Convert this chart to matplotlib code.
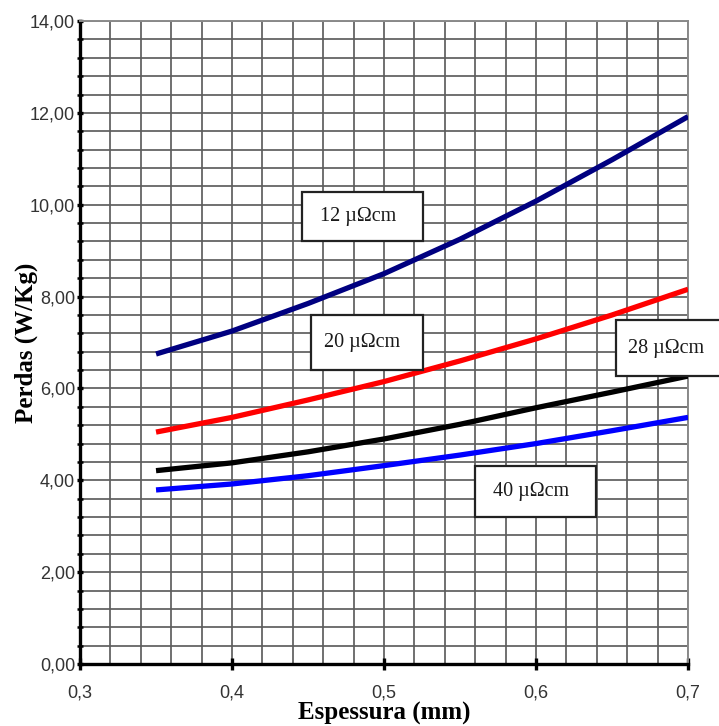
import numpy as np
import matplotlib.pyplot as plt
from matplotlib.patches import Rectangle
from matplotlib.ticker import FuncFormatter, MultipleLocator

# espessura da chapa (mm)
espessura = [0.35, 0.40, 0.45, 0.50, 0.55, 0.60, 0.65, 0.70]

# perdas (W/Kg) para cada resistividade
perdas_12 = [6.75, 7.25, 7.85, 8.50, 9.25, 10.08, 10.98, 11.92]
perdas_20 = [5.05, 5.37, 5.75, 6.15, 6.60, 7.08, 7.60, 8.16]
perdas_28 = [4.21, 4.38, 4.62, 4.90, 5.22, 5.58, 5.92, 6.27]
perdas_40 = [3.79, 3.92, 4.10, 4.32, 4.55, 4.80, 5.08, 5.37]

series = [perdas_12, perdas_20, perdas_28, perdas_40]
cores = ['#000080', '#ff0000', '#000000', '#0000ff']
rotulos = ['12 µΩcm', '20 µΩcm', '28 µΩcm', '40 µΩcm']
# caixas dos rotulos: (x0, x1, y0, y1) em unidades dos eixos
caixas = [(0.446, 0.5257, 9.21, 10.28),
          (0.452, 0.5257, 6.40, 7.60),
          (0.6526, 0.725, 6.27, 7.49),
          (0.5599, 0.6395, 3.20, 4.31)]

fig = plt.figure(figsize=(7.19, 7.26), dpi=100)
ax = fig.add_axes([0.1113, 0.0854, 0.8457, 0.8856])

ax.set_xlim(0.3, 0.7)
ax.set_ylim(0, 14)

ax.xaxis.set_major_locator(MultipleLocator(0.1))
ax.xaxis.set_minor_locator(MultipleLocator(0.02))
ax.yaxis.set_major_locator(MultipleLocator(2))
ax.yaxis.set_minor_locator(MultipleLocator(0.4))
ax.grid(which='both', color='#5e5e5e', lw=1.25)
ax.set_axisbelow(True)

for y, c in zip(series, cores):
    ax.plot(espessura, y, color=c, lw=3.8, solid_capstyle='butt', zorder=3)

for txt, (x0, x1, y0, y1) in zip(rotulos, caixas):
    r = Rectangle((x0, y0), x1 - x0, y1 - y0, facecolor='white',
                  edgecolor='#222222', lw=1.6, zorder=4, clip_on=False)
    ax.add_patch(r)
    ax.text((x0 + x1) / 2 - 0.003, (y0 + y1) / 2, txt, ha='center', va='center',
            family='Liberation Serif', fontsize=14.5, color='#1a1a1a', zorder=5,
            clip_on=False)

for s in ['top', 'right']:
    ax.spines[s].set_color('#8a8a8a')
    ax.spines[s].set_linewidth(1.4)
for s in ['left', 'bottom']:
    ax.spines[s].set_color('black')
    ax.spines[s].set_linewidth(2.4)

ax.xaxis.set_major_formatter(FuncFormatter(lambda v, p: f'{v:.1f}'.replace('.', ',')))
ax.yaxis.set_major_formatter(FuncFormatter(lambda v, p: f'{v:.2f}'.replace('.', ',')))
ax.tick_params(axis='x', which='major', direction='inout', length=8, width=2.4,
               pad=11, labelsize=13, labelcolor='#333333')
ax.tick_params(axis='x', which='minor', length=0)
ax.tick_params(axis='y', which='major', direction='inout', length=5, width=2.4,
               pad=1, labelsize=13, labelcolor='#333333')
ax.tick_params(axis='y', which='minor', direction='inout', length=4, width=1.8)
for lab in ax.get_xticklabels() + ax.get_yticklabels():
    lab.set_family('Liberation Sans')

ax.set_xlabel('Espessura (mm)', family='Liberation Serif', fontweight='bold',
              fontsize=18, labelpad=0)
ax.set_ylabel('Perdas (W/Kg)', family='Liberation Serif', fontweight='bold',
              fontsize=18, labelpad=-6)

fig.savefig('out.png', dpi=100)
